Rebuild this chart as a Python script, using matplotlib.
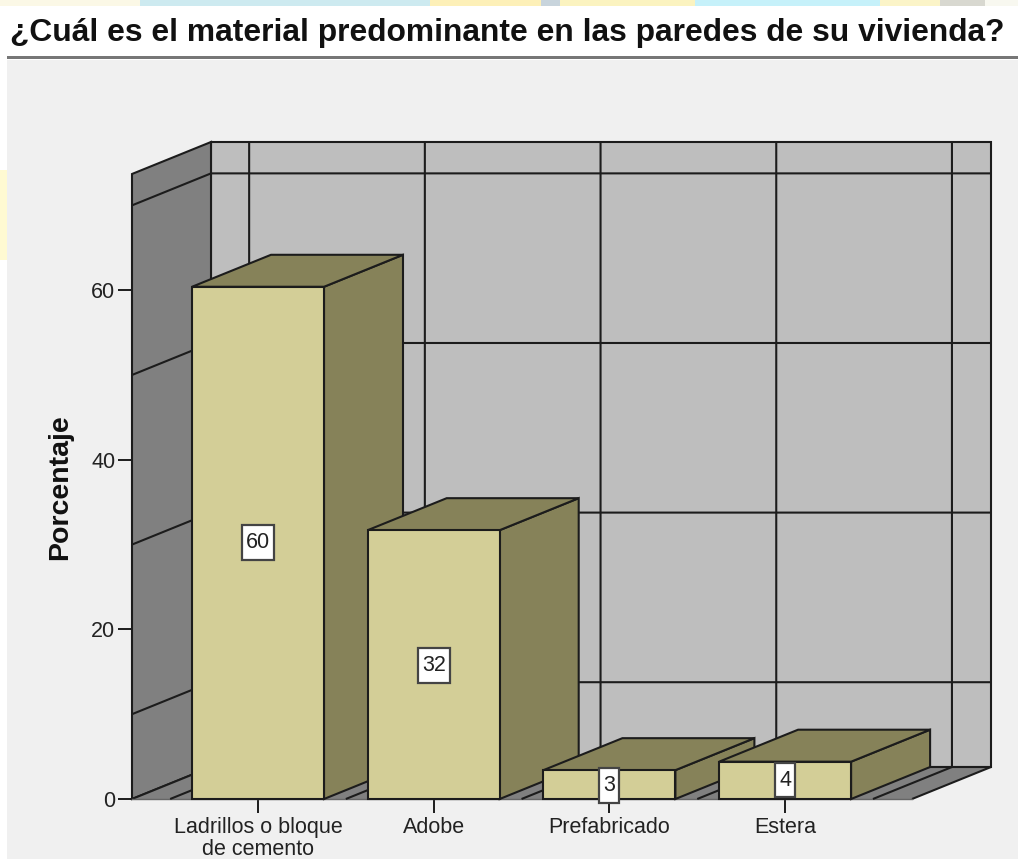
import numpy as np
import matplotlib
matplotlib.use('Agg')
import matplotlib.pyplot as plt
from matplotlib.patches import Polygon, Rectangle

plt.rcParams['font.family'] = ['Liberation Sans', 'DejaVu Sans']

categories = ['Ladrillos o bloque\nde cemento', 'Adobe', 'Prefabricado', 'Estera']
values = [60.4, 31.7, 3.4, 4.4]
labels = ['60', '32', '3', '4']
label_pos = [30.2, 15.8, 1.65, 2.24]
yticks = [0, 20, 40, 60]
grid_y = [10, 30, 50, 70]
grid_x = [-0.5, 0.5, 1.5, 2.5, 3.5]

# strip of the page behind the chart, left edge px and colour
strip_x = [0, 140, 430, 541, 560, 695, 880, 940, 985, 1018]
strip_c = ['#fbf8e6', '#cdeaf0', '#fdf0b8', '#c8d4dc', '#fbf3c0', '#c6f1fa', '#fbf4c8', '#d8d8d0', '#f8f8f0']

W, H = 1018, 859
L, R, T, B = 132, 991, 142, 799
PX = 175.7
PY = 8.483
DX = 79 / PX
DY = 32 / PY
BAR = 132 / PX
X0 = -(258 - 132) / PX
X1 = (991 - 258) / PX
YTOP = 73.7
EDGE = '#1c1c1c'
LW = 1.5
TXT = '#222222'


def poly(ax, pts, fc, z, ec=EDGE):
    ax.add_patch(Polygon(pts, closed=True, fc=fc, ec=ec, lw=LW, zorder=z, joinstyle='miter', clip_on=False))


def seg(ax, xs, ys, z=2, lw=LW):
    ax.plot(xs, ys, color=EDGE, lw=lw, zorder=z, solid_capstyle='butt', clip_on=False)


def page(fig):
    fig.patches.append(Rectangle((0, 0), 1, 1, transform=fig.transFigure, fc='white', ec='none', zorder=-5))
    fig.patches.append(Rectangle((7 / W, 0), 1 - 7 / W, 1 - 60 / H, transform=fig.transFigure,
                                 fc='#f0f0f0', ec='none', zorder=-4))
    fig.patches.append(Rectangle((0, 1 - 260 / H), 7 / W, 90 / H, transform=fig.transFigure,
                                 fc='#fffad2', ec='none', zorder=-4))
    fig.patches.append(Rectangle((7 / W, 1 - 59 / H), 1 - 7 / W, 3 / H, transform=fig.transFigure,
                                 fc='#777777', ec='none', zorder=-3))
    for i in range(len(strip_c)):
        fig.patches.append(Rectangle((strip_x[i] / W, 1 - 6 / H), (strip_x[i + 1] - strip_x[i]) / W, 6 / H,
                                     transform=fig.transFigure, fc=strip_c[i], ec='none', zorder=-4))


def paint():
    fig = plt.figure(figsize=(W / 100, H / 100), dpi=100)
    page(fig)
    ax = fig.add_axes([L / W, 1 - B / H, (R - L) / W, (B - T) / H])
    ax.patch.set_alpha(0)
    ax.set_xlim(X0, X1)
    ax.set_ylim(0, YTOP + DY)
    for s in ax.spines.values():
        s.set_visible(False)

    x_end = X1 - DX
    # walls and floor
    poly(ax, [(X0 + DX, DY), (X1, DY), (X1, YTOP + DY), (X0 + DX, YTOP + DY)], '#bebebe', 1)
    poly(ax, [(X0, 0), (X0 + DX, DY), (X0 + DX, YTOP + DY), (X0, YTOP)], '#808080', 1)
    poly(ax, [(X0, 0), (x_end, 0), (X1, DY), (X0 + DX, DY)], '#808080', 1, ec='none')
    seg(ax, [X0, X0 + DX, X1, x_end], [0, DY, DY, 0])
    ax.plot([X0, x_end], [0, 0], color='#666666', lw=1, zorder=2, clip_on=False)
    # grid
    for g in grid_y:
        seg(ax, [X0, X0 + DX, X1], [g, g + DY, g + DY])
    for g in grid_x:
        seg(ax, [g, g + DX, g + DX], [0, DY, YTOP + DY])

    # bars, left to right so that each front covers the previous side
    for i, v in enumerate(values):
        a, b = i - BAR / 2, i + BAR / 2
        z = 3 + i
        poly(ax, [(b, 0), (b + DX, DY), (b + DX, v + DY), (b, v)], '#868259', z)
        poly(ax, [(a, v), (b, v), (b + DX, v + DY), (a + DX, v + DY)], '#868259', z)
        poly(ax, [(a, 0), (b, 0), (b, v), (a, v)], '#d3ce97', z)
        hw = (len(labels[i]) * 12 + 8) / 2 / PX
        hh = 17.5 / PY
        ax.add_patch(Rectangle((i - hw, label_pos[i] - hh), 2 * hw, 2 * hh, fc='white', ec='#444444', lw=1.6,
                               zorder=10, clip_on=False))
        ax.text(i, label_pos[i], labels[i], ha='center', va='center', fontsize=15.5, color=TXT, zorder=11)

    ax.set_xticks(np.arange(len(categories)))
    ax.set_xticklabels(categories, fontsize=15.5, color=TXT, linespacing=1.05)
    ax.set_yticks(yticks)
    ax.set_yticklabels([str(t) for t in yticks], fontsize=15.5, color=TXT)
    ax.tick_params(axis='x', length=10, width=1.4, color=EDGE, pad=3)
    ax.tick_params(axis='y', length=10, width=1.4, color=EDGE, pad=2)

    fig.text(507 / W, 1 - 33 / H, '¿Cuál es el material predominante en las paredes de su vivienda?',
             ha='center', va='center', fontsize=22.9, fontweight='bold', color='#111111')
    fig.text(60 / W, 1 - 487 / H, 'Porcentaje', rotation=90, ha='center', va='center',
             fontsize=20.5, fontweight='bold', color='#111111')
    fig.savefig('out.png', dpi=100)


if __name__ == "__main__":
    paint()
